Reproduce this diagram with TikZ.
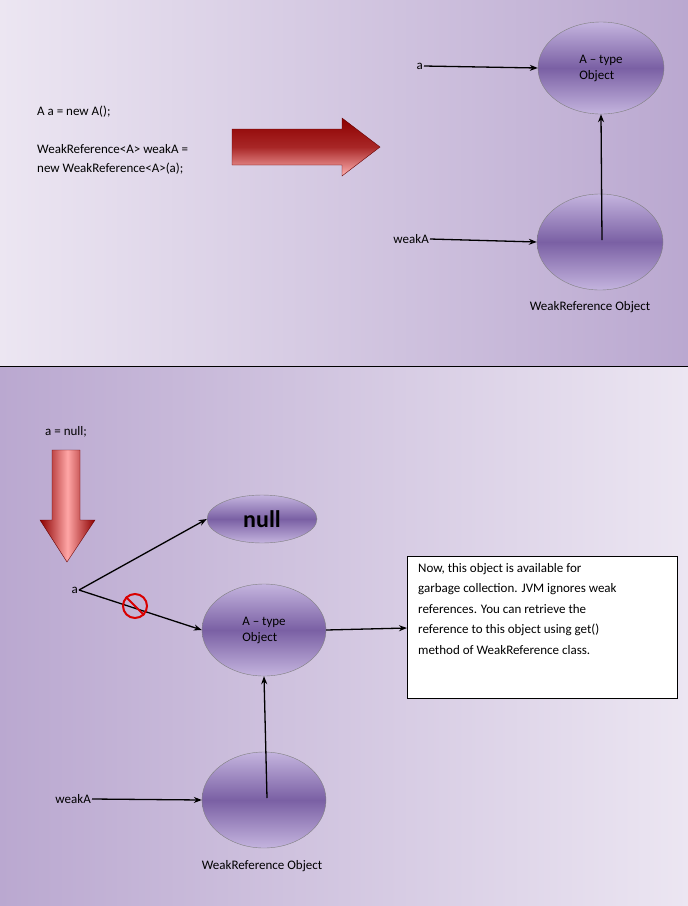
\documentclass[tikz,border=0pt]{standalone}
\usepackage{fontspec}
\setmainfont{Carlito}
\usetikzlibrary{arrows.meta,shapes.geometric}
\definecolor{bgl}{RGB}{236,230,242}
\definecolor{bgd}{RGB}{186,168,208}
\definecolor{ec}{RGB}{122,96,164}
\definecolor{el}{RGB}{196,180,222}
\begin{document}
\begin{tikzpicture}[x=1pt,y=-1pt,
 obj/.style={ellipse,draw=black!50,thin,top color=el,bottom color=el,middle color=ec,inner sep=0pt,align=left,font=\fontsize{13}{16}\selectfont},
 lbl/.style={font=\fontsize{13}{16}\selectfont,inner sep=1pt},
 ar/.style={-{Stealth[length=8pt,width=6pt]},line width=1.3pt},
 redarrow/.style={draw=red!40!black}]
\useasboundingbox (0,0) rectangle (688,906);
\shade[left color=bgl,right color=bgd] (0,0) rectangle (688,366);
\shade[left color=bgd,right color=bgl] (0,366) rectangle (688,906);
\draw[black] (0,366) -- (688,366);
% top
\node[obj,minimum width=126,minimum height=92] (A1) at (601,68) {A -- type\\Object};
\node[obj,minimum width=126,minimum height=96] (W1) at (600,242) {};
\node[lbl] at (590,307) {WeakReference Object};
\node[lbl,anchor=east] (a1) at (424,66) {a};
\node[lbl,anchor=east] (wa1) at (430,239) {weakA};
\draw[ar] (a1.east) -- (A1.west);
\draw[ar] (wa1.east) -- (W1.west);
\coordinate (w1c) at (602,240);
\draw[ar] (w1c) -- (A1.south);
\node[lbl,anchor=west] at (36,112) {A a = new A();};
\node[lbl,anchor=west,align=left] at (36,159) {WeakReference<A> weakA =\\[3pt]new WeakReference<A>(a);};
\path[redarrow,top color=red!55!black,bottom color=red!30!white,middle color=red!60!black!85] (232,129) -- (342,129) -- (342,118) -- (380,147) -- (342,176) -- (342,165) -- (232,165) -- cycle;
% bottom
\node[lbl,anchor=west] at (44,432) {a = null;};
\path[redarrow,left color=red!55!black,right color=red!55!black,middle color=red!35!white] (52,450) -- (80,450) -- (80,520) -- (95,520) -- (67,562) -- (40,520) -- (52,520) -- cycle;
\node[obj,minimum width=110,minimum height=48,font=\fontsize{24}{26}\selectfont\bfseries] (N) at (262,519) {null};
\node[obj,minimum width=124,minimum height=92] (A2) at (264,630) {A -- type\\Object};
\node[obj,minimum width=124,minimum height=96] (W2) at (264,800) {};
\node[lbl] at (262,866) {WeakReference Object};
\node[lbl,anchor=east] (a2) at (79,590) {a};
\node[lbl,anchor=east] (wa2) at (92,799) {weakA};
\draw[ar] (a2.east) -- (N.west);
\draw[ar] (a2.east) -- (A2.west);
\draw[ar] (wa2.east) -- (W2.west);
\coordinate (w2c) at (267,798);
\draw[ar] (w2c) -- (A2.south);
\node[circle,draw=red!85!black,line width=2pt,minimum size=24,inner sep=0pt] (no) at (135,606) {};
\draw[red!85!black,line width=2pt] (no.north west) -- (no.south east);
\draw[black,fill=white] (407,556) rectangle (677,698);
\node[align=left,anchor=north west,font=\fontsize{13}{20.5}\selectfont,inner sep=0pt] (box) at (418,563) {Now, this object is available for\\garbage collection. JVM ignores weak\\references. You can retrieve the\\reference to this object using get()\\method of WeakReference class.};
\coordinate (bw) at (407,628);
\draw[ar] (A2.east) -- (bw);
\end{tikzpicture}
\end{document}
